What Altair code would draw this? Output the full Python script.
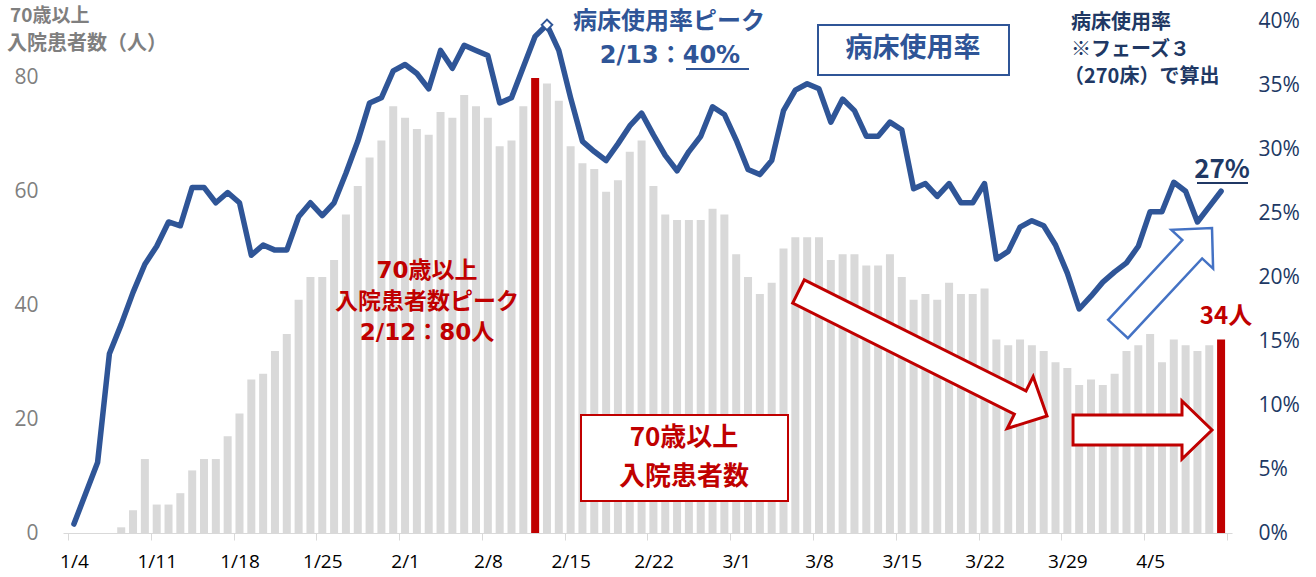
import json
import math
import altair as alt
import pandas as pd

# ---------------- data ----------------
dates = [f"{d.month}/{d.day}" for d in pd.date_range("2021-01-04", "2021-04-11")]

# 70歳以上 入院患者数（人）
counts = [0, 0, 0, 0, 1, 4, 13,
          5, 5, 7, 11, 13, 13, 17,
          21, 27, 28, 32, 35, 41, 45,
          45, 48, 56, 61, 66, 69, 75,
          73, 71, 70, 74, 73, 77, 75,
          73, 68, 69, 75, 80, 79, 76,
          68, 65, 64, 60, 62, 67, 69,
          61, 56, 55, 55, 55, 57, 56,
          49, 45, 42, 44, 50, 52, 52,
          52, 48, 49, 49, 47, 47, 49,
          45, 41, 42, 41, 44, 42, 42,
          43, 34, 33, 34, 33, 32, 30,
          29, 26, 27, 26, 28, 32, 33,
          35, 30, 34, 33, 32, 33, 34]

# 病床使用率（%）
rates = [0.7, 3.1, 5.5, 14.0, 16.3, 18.8, 21.0,
         22.4, 24.3, 24.0, 27.0, 27.0, 25.8, 26.6,
         25.8, 21.7, 22.5, 22.1, 22.1, 24.7, 25.8,
         24.8, 25.8, 28.1, 30.6, 33.6, 34.0, 36.1,
         36.6, 35.9, 34.7, 37.7, 36.3, 38.1, 37.7,
         37.3, 33.6, 34.0, 36.4, 38.8, 39.7, 37.7,
         34.0, 30.6, 29.8, 29.1, 30.4, 31.8, 32.8,
         31.1, 29.5, 28.3, 29.8, 31.0, 33.3, 32.7,
         30.7, 28.4, 28.0, 29.1, 33.0, 34.6, 35.1,
         34.7, 32.1, 33.9, 33.0, 31.0, 31.0, 32.1,
         31.5, 26.9, 27.3, 26.3, 27.3, 25.8, 25.8,
         27.3, 21.4, 22.0, 23.9, 24.4, 24.0, 22.5,
         20.3, 17.5, 18.5, 19.6, 20.4, 21.1, 22.4,
         25.1, 25.1, 27.4, 26.7, 24.3, 25.5, 26.7]

highlight_dates = ["2/12", "4/11"]
peak_rate_date = "2/13"

count_ticks = [0, 20, 40, 60, 80]
rate_ticks = [0, 5, 10, 15, 20, 25, 30, 35, 40]

df = pd.DataFrame({"i": list(range(len(dates))), "date": dates,
                   "count": counts, "rate": rates})
one = pd.DataFrame({"_": [0]})

# ---------------- layout ----------------
W, H = 1169, 512
X0, Y0 = 63, 21
BLUE = "#2F5597"
NAVY = "#203864"
RED = "#C00000"
GRAY = "#7F7F7F"
JP = "Noto Sans CJK JP"
MIX = "'DejaVu Sans', 'Noto Sans CJK JP'"

n = len(dates)
tick_vals = [-0.5 + 7 * k for k in range(n // 7 + 1)]
tick_labels = [dates[7 * k] for k in range(n // 7)] + [""]
label_expr = json.dumps(tick_labels) + "[round((datum.value + 0.5) / 7)]"

xscale = alt.Scale(domain=[-0.5, n - 0.5], nice=False, zero=False)
xaxis = alt.Axis(values=tick_vals, labelExpr=label_expr, labelOffset=W / n / 2,
                 title=None, grid=False, domainColor="#D9D9D9", tickColor="#D9D9D9",
                 tickSize=7, labelFont="Open Sans", labelFontSize=19,
                 labelColor="#000000", labelPadding=21, labelBaseline="middle",
                 labelOverlap=False, labelFlush=False)

bars = alt.Chart(df).mark_bar(size=8).encode(
    x=alt.X("i:Q", scale=xscale, axis=xaxis),
    y=alt.Y("count:Q", scale=alt.Scale(domain=[0, 90], nice=False),
            axis=alt.Axis(values=count_ticks, title=None, grid=False, ticks=False,
                          domain=False, labelColor=GRAY, labelFont="Open Sans",
                          labelFontSize=21, labelPadding=25)),
    color=alt.condition(alt.FieldOneOfPredicate(field="date", oneOf=highlight_dates),
                        alt.value(RED), alt.value("#D9D9D9")),
)


def text(s, x, y, size, color, font=JP, bold=True, align="center"):
    return alt.Chart(one).mark_text(
        text=s, fontSize=size, color=color, font=font,
        fontWeight="bold" if bold else "normal", align=align, baseline="middle"
    ).encode(x=alt.value(x - X0), y=alt.value(y - Y0))


def rect(x1, y1, x2, y2, color, sw=2):
    return alt.Chart(one).mark_rect(fill="white", stroke=color, strokeWidth=sw).encode(
        x=alt.value(x1 - X0), x2=alt.value(x2 - X0),
        y=alt.value(y1 - Y0), y2=alt.value(y2 - Y0))


def underline(x1, x2, y, color, sw=2):
    return alt.Chart(one).mark_rule(color=color, strokeWidth=sw).encode(
        x=alt.value(x1 - X0), x2=alt.value(x2 - X0), y=alt.value(y - Y0))


def arrow(tail, tip, shaft_w, head_w, head_l, color, sw):
    dx, dy = tip[0] - tail[0], tip[1] - tail[1]
    L = math.hypot(dx, dy)
    r = L / 2
    ang = math.degrees(math.atan2(dy, dx)) % 360
    s = shaft_w / 2 / r
    h = head_w / 2 / r
    b = 1 - head_l / r
    path = (f"M -1 {-s:.4f} L {b:.4f} {-s:.4f} L {b:.4f} {-h:.4f} L 1 0 "
            f"L {b:.4f} {h:.4f} L {b:.4f} {s:.4f} L -1 {s:.4f} Z")
    cx, cy = (tail[0] + tip[0]) / 2, (tail[1] + tip[1]) / 2
    return alt.Chart(one).mark_point(
        shape=path, size=L * L, angle=ang, filled=True, fill="white", stroke=color,
        strokeWidth=sw, opacity=1, fillOpacity=1, strokeOpacity=1, strokeJoin="miter"
    ).encode(x=alt.value(cx - X0), y=alt.value(cy - Y0))


annotations = [
    # left axis title
    text("70歳以上", 10, 16, 19, GRAY, align="left"),
    text("入院患者数（人）", 7, 44, 20, GRAY, align="left"),
    # right axis note
    text("病床使用率", 1071, 23, 20, NAVY, align="left"),
    text("※フェーズ３", 1071, 50, 20, NAVY, align="left"),
    text("（270床）で算出", 1064, 77, 20, NAVY, align="left"),
    # bed usage peak
    text("病床使用率ピーク", 669, 22, 24, BLUE, font=MIX),
    text("2/13：40%", 670, 56, 24, BLUE, font=MIX),
    underline(686, 749, 69, BLUE),
    # bed usage label box
    rect(818, 25, 1009, 75, BLUE),
    text("病床使用率", 913, 49, 27, BLUE),
    # patients peak
    text("70歳以上", 427, 271, 23, RED, font=MIX),
    text("入院患者数ピーク", 427, 302, 23, RED, font=MIX),
    text("2/12：80人", 427, 333, 23, RED, font=MIX),
    # patients label box
    rect(581, 415, 788, 501, RED),
    text("70歳以上", 684, 438, 26, RED),
    text("入院患者数", 684, 477, 26, RED),
    # arrows
    arrow((798.5, 291.5), (1047, 416), 26, 58, 30, RED, 3),
    arrow((1073, 430), (1212, 430), 30, 58, 30, RED, 3),
    arrow((1118, 329), (1212, 228), 27, 57, 29, "#4472C4", 2.5),
    # latest values
    text("27%", 1222, 170, 26, NAVY),
    underline(1197, 1248, 183, NAVY),
    text("34人", 1226, 317, 24, RED),
]

left = alt.layer(bars, *annotations)

line = alt.Chart(df).mark_line(color=BLUE, strokeWidth=5.5, strokeJoin="round",
                               strokeCap="round").encode(
    x=alt.X("i:Q", scale=xscale, axis=xaxis),
    y=alt.Y("rate:Q", scale=alt.Scale(domain=[0, 40], nice=False),
            axis=alt.Axis(orient="right", values=rate_ticks, labelExpr="datum.value + '%'",
                          title=None, grid=False, ticks=False, domain=False,
                          labelColor=NAVY, labelFont="Open Sans", labelFontSize=21,
                          labelPadding=26)),
)

peak = alt.Chart(df).transform_filter(alt.datum.date == peak_rate_date).mark_point(
    shape="diamond", size=110, filled=True, fill="white", stroke=BLUE,
    strokeWidth=2, opacity=1).encode(
    x=alt.X("i:Q", scale=xscale, axis=xaxis),
    y=alt.Y("rate:Q", scale=alt.Scale(domain=[0, 40], nice=False)),
)

right = alt.layer(line, peak)

chart = alt.layer(left, right).resolve_scale(y="independent").properties(
    width=W, height=H,
    padding={"left": X0, "top": Y0, "right": 1316 - X0 - W, "bottom": 577 - Y0 - H},
    autosize=alt.AutoSizeParams(type="none"),
).configure_view(stroke=None)

chart.save("out.html", embed_options={"renderer": "svg", "actions": False})
